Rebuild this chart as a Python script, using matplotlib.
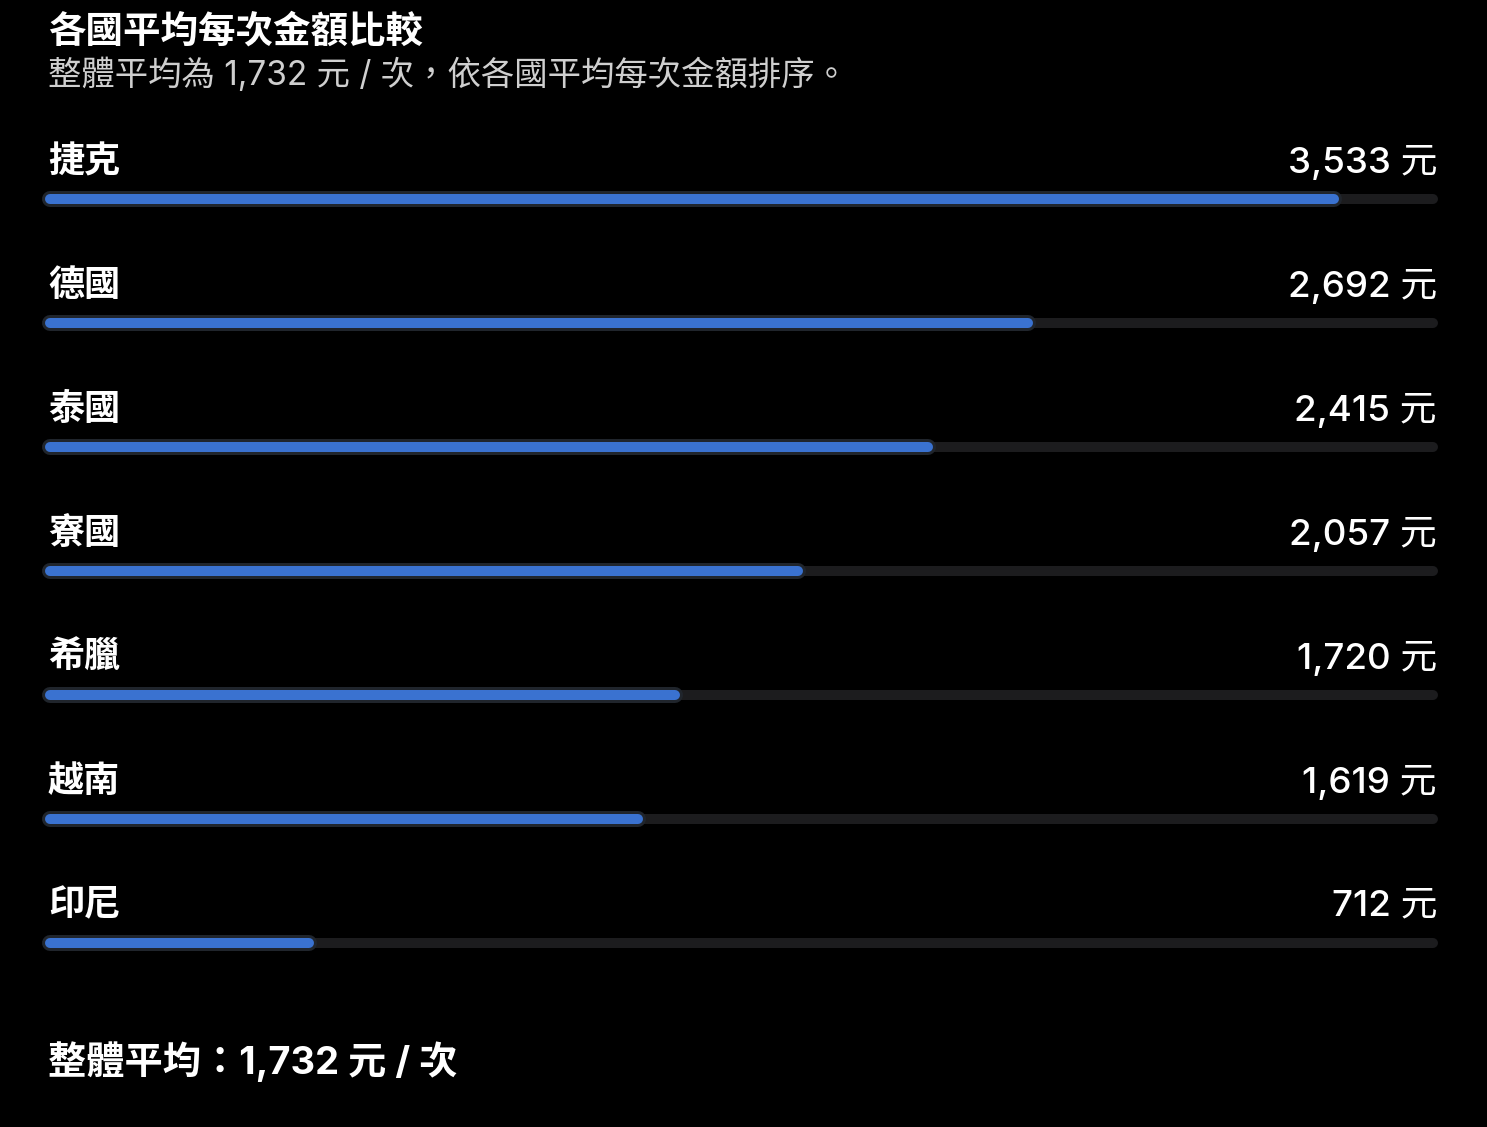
import matplotlib
matplotlib.use("Agg")
import matplotlib.pyplot as plt

plt.rcParams['font.family'] = ['Inter', 'Noto Sans CJK TC', 'DejaVu Sans']

# data
countries = ["捷克", "德國", "泰國", "寮國", "希臘", "越南", "印尼"]
amounts = [3533, 2692, 2415, 2057, 1720, 1619, 712]
overall_avg = 1732
axis_max = 3805

title = "各國平均每次金額比較"
subtitle = f"整體平均為 {overall_avg:,} 元 / 次，依各國平均每次金額排序。"
footer = f"整體平均：{overall_avg:,} 元 / 次"

W, H = 1487, 1127
fig = plt.figure(figsize=(W / 100, H / 100), dpi=100, facecolor="black")

# axes for bars: x in value units, y in pixel rows
ax = fig.add_axes([50 / W, 0, (1433 - 50) / W, 1])
ax.set_xlim(0, axis_max)
ax.set_ylim(H, 0)
ax.axis("off")
ax.set_facecolor("black")

px = 72 / 100  # points per pixel

for i, (name, val) in enumerate(zip(countries, amounts)):
    yb = 199 + i * 124
    ax.plot([0, axis_max], [yb, yb], color="#1c1c1e", lw=10 * px,
            solid_capstyle="round", clip_on=False, zorder=1)
    ax.plot([0, val], [yb, yb], color="#20252c", lw=16 * px,
            solid_capstyle="round", clip_on=False, zorder=2)
    ax.plot([0, val], [yb, yb], color="#3a72d0", lw=10 * px,
            solid_capstyle="round", clip_on=False, zorder=3)
    yt = (162 + i * 124) / H
    fig.text(48 / W, 1 - yt, name, color="white", fontsize=26,
             fontweight="bold", ha="left", va="center")
    fig.text(1437 / W, 1 - yt, f"{val:,} 元", color="white", fontsize=26.5,
             fontweight="medium", ha="right", va="center")

fig.text(48 / W, 1 - 33 / H, title, color="white", fontsize=27,
         fontweight="bold", ha="left", va="center")
fig.text(48 / W, 1 - 75 / H, subtitle, color="#cfcfcf", fontsize=24,
         ha="left", va="center")
fig.text(48 / W, 1 - 1062 / H, footer, color="white", fontsize=27.5,
         fontweight="bold", ha="left", va="center")

fig.savefig("out.png", dpi=100, facecolor="black")
